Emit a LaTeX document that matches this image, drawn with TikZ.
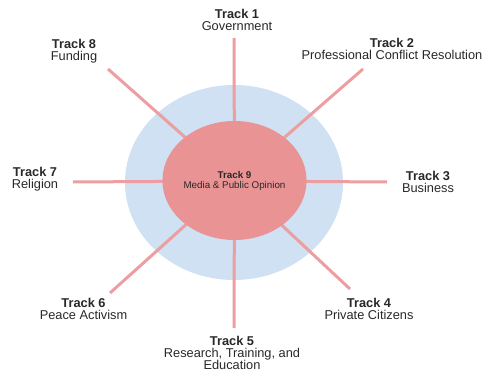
\documentclass[tikz,border=0pt]{standalone}
\usepackage{fontspec}
\setmainfont{Liberation Sans}
\usetikzlibrary{shapes.geometric}
\definecolor{outerblue}{RGB}{207,225,242}
\definecolor{hubred}{RGB}{233,147,148}
\definecolor{spoke}{RGB}{236,158,161}
\definecolor{labeltext}{RGB}{40,40,40}
\begin{document}
\begin{tikzpicture}[x=0.75pt,y=-0.75pt,
  lbl/.style={align=center,inner sep=0pt,text=labeltext,font=\fontsize{9.6pt}{9pt}\selectfont},
  spokeline/.style={draw=spoke,line width=2.25pt}]
\useasboundingbox (0,0) rectangle (487,371);
% outer blue ellipse
\node[ellipse,fill=outerblue,draw=none,inner sep=0pt,minimum width=163.5pt,minimum height=146.25pt] (outer) at (234,182.5) {};
\coordinate (ctr) at (234.5,181);
% spoke ends
\coordinate (e1) at (234,38);
\coordinate (e2) at (363,69);
\coordinate (e3) at (387,182);
\coordinate (e4) at (350,289);
\coordinate (e5) at (234,328);
\coordinate (e6) at (110,293);
\coordinate (e7) at (73,182);
\coordinate (e8) at (108,69);
\foreach \i in {1,...,8} \draw[spokeline] (e\i) -- (ctr);
% hub
\node[ellipse,fill=hubred,draw=none,inner sep=0pt,minimum width=101.25pt,minimum height=89.25pt,align=center,text=labeltext,font=\fontsize{7.35pt}{7.5pt}\selectfont] (hub) at (234.5,180.5) {\textbf{Track 9}\\Media \& Public Opinion};
% labels
\node[lbl] (t1) at (237,20) {\textbf{Track 1}\\Government};
\node[lbl] (t2) at (392,48.5) {\textbf{Track 2}\\Professional Conflict Resolution};
\node[lbl] (t3) at (428,181.5) {\textbf{Track 3}\\Business};
\node[lbl] (t4) at (369,309) {\textbf{Track 4}\\Private Citizens};
\node[lbl] (t5) at (232,353) {\textbf{Track 5}\\Research, Training, and\\Education};
\node[lbl] (t6) at (83.5,309) {\textbf{Track 6}\\Peace Activism};
\node[lbl] (t7) at (35,179) {\textbf{Track 7}\\Religion};
\node[lbl] (t8) at (74,51.5) {\textbf{Track 8}\\Funding};
\end{tikzpicture}
\end{document}
